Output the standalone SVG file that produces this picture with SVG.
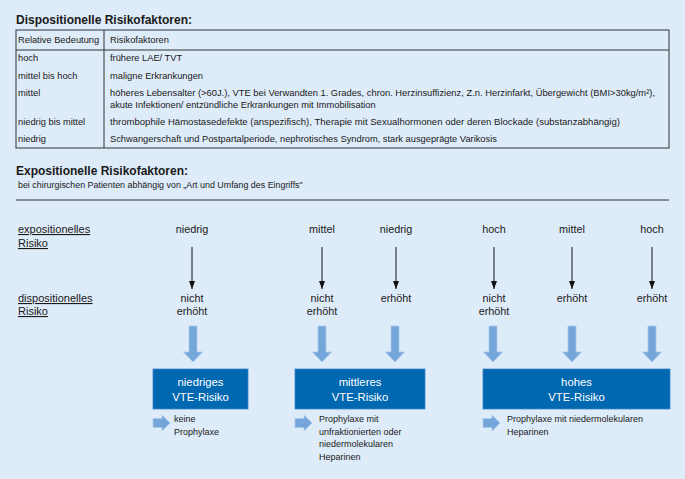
<svg xmlns="http://www.w3.org/2000/svg" width="685" height="479" viewBox="0 0 685 479">
<defs>
<marker id="ah" markerWidth="8" markerHeight="6" refX="8" refY="3" orient="auto" markerUnits="userSpaceOnUse" viewBox="0 0 8 6">
<path d="M0,0 L8,3 L0,6 Z" fill="#111"/>
</marker>
<path id="bd" d="M-4,0 L4,0 L4,26 L9.5,26 L0,36 L-9.5,26 L-4,26 Z"/>
<path id="br" d="M0,-4.5 L9,-4.5 L9,-8 L17,0 L9,8 L9,4.5 L0,4.5 Z"/>
</defs>
<style>
text{font-family:"Liberation Sans",Arial,sans-serif;fill:#1a1a1a}
.h{font-weight:bold;font-size:12px}
.t{font-size:9.3px}
.s{font-size:8.9px}
.l{font-size:11px}
.c{font-size:10.8px;text-anchor:middle}
.u{text-decoration:underline}
.bx{fill:#0067b1;stroke:#3a86c8;stroke-width:0.8}
.bt{font-size:11.3px;fill:#ffffff;text-anchor:middle}
.ba{fill:#74a6da;stroke:#a9c9ea;stroke-width:0.8}
.ar{stroke:#111;stroke-width:1;fill:none}
.p{font-size:9px}
</style>
<rect width="685" height="479" fill="#deebf8"/>
<g id="disp-table">
<text class="h" x="16" y="24">Dispositionelle Risikofaktoren:</text>
<rect x="16" y="30" width="653" height="118" fill="none" stroke="#333" stroke-width="1"/>
<line x1="16" y1="50" x2="669" y2="50" stroke="#333" stroke-width="1"/>
<line x1="104" y1="30" x2="104" y2="148" stroke="#333" stroke-width="1"/>
<text class="t" x="18" y="43">Relative Bedeutung</text>
<text class="t" x="110" y="43">Risikofaktoren</text>
<text class="t" x="18" y="61">hoch</text>
<text class="t" x="110" y="61">frühere LAE/ TVT</text>
<text class="t" x="18" y="79">mittel bis hoch</text>
<text class="t" x="110" y="79">maligne Erkrankungen</text>
<text class="t" x="18" y="96">mittel</text>
<text class="t" x="110" y="96" textLength="545" lengthAdjust="spacingAndGlyphs">höheres Lebensalter (&gt;60J.), VTE bei Verwandten 1. Grades, chron. Herzinsuffizienz, Z.n. Herzinfarkt, Übergewicht (BMI&gt;30kg/m²),</text>
<text class="t" x="110" y="108">akute Infektionen/ entzündliche Erkrankungen mit Immobilisation</text>
<text class="t" x="18" y="125">niedrig bis mittel</text>
<text class="t" x="110" y="125" textLength="510" lengthAdjust="spacingAndGlyphs">thrombophile Hämostasedefekte (anspezifisch), Therapie mit Sexualhormonen oder deren Blockade (substanzabhängig)</text>
<text class="t" x="18" y="142">niedrig</text>
<text class="t" x="110" y="142">Schwangerschaft und Postpartalperiode, nephrotisches Syndrom, stark ausgeprägte Varikosis</text>
</g>
<g id="expo-header">
<text class="h" x="16" y="175">Expositionelle Risikofaktoren:</text>
<text class="s" x="18" y="188">bei chirurgischen Patienten abhängig von „Art und Umfang des Eingriffs"</text>
<line x1="16" y1="200" x2="669" y2="200" stroke="#333" stroke-width="1"/>
</g>
<g id="row-labels">
<text class="l u" x="18" y="233">expositionelles</text>
<text class="l u" x="18" y="247">Risiko</text>
<text class="l u" x="18" y="302">dispositionelles</text>
<text class="l u" x="18" y="315">Risiko</text>
</g>
<g id="expo-values">
<text class="c" x="192" y="233">niedrig</text>
<text class="c" x="322" y="233">mittel</text>
<text class="c" x="396" y="233">niedrig</text>
<text class="c" x="494" y="233">hoch</text>
<text class="c" x="572" y="233">mittel</text>
<text class="c" x="652" y="233">hoch</text>
</g>
<g id="disp-values">
<text class="c" x="192" y="302">nicht</text>
<text class="c" x="192" y="315">erhöht</text>
<text class="c" x="322" y="302">nicht</text>
<text class="c" x="322" y="315">erhöht</text>
<text class="c" x="396" y="302">erhöht</text>
<text class="c" x="494" y="302">nicht</text>
<text class="c" x="494" y="315">erhöht</text>
<text class="c" x="572" y="302">erhöht</text>
<text class="c" x="652" y="302">erhöht</text>
</g>
<g id="connectors">
<line class="ar" x1="192" y1="247" x2="192" y2="289" marker-end="url(#ah)"/>
<line class="ar" x1="322" y1="247" x2="322" y2="289" marker-end="url(#ah)"/>
<line class="ar" x1="396" y1="247" x2="396" y2="289" marker-end="url(#ah)"/>
<line class="ar" x1="494" y1="247" x2="494" y2="289" marker-end="url(#ah)"/>
<line class="ar" x1="572" y1="247" x2="572" y2="289" marker-end="url(#ah)"/>
<line class="ar" x1="652" y1="247" x2="652" y2="289" marker-end="url(#ah)"/>
<use href="#bd" class="ba" x="193" y="326"/>
<use href="#bd" class="ba" x="322" y="326"/>
<use href="#bd" class="ba" x="395" y="326"/>
<use href="#bd" class="ba" x="493" y="326"/>
<use href="#bd" class="ba" x="572" y="326"/>
<use href="#bd" class="ba" x="652" y="326"/>
</g>
<g id="node-niedrig">
<rect class="bx" x="153" y="369" width="95" height="40"/>
<text class="bt" x="200.5" y="386">niedriges</text>
<text class="bt" x="200.5" y="401">VTE-Risiko</text>
<use href="#br" class="ba" x="153" y="423"/>
<text class="p" x="174" y="422">keine</text>
<text class="p" x="174" y="435">Prophylaxe</text>
</g>
<g id="node-mittel">
<rect class="bx" x="295" y="369" width="130" height="40"/>
<text class="bt" x="360" y="386">mittleres</text>
<text class="bt" x="360" y="401">VTE-Risiko</text>
<use href="#br" class="ba" x="295" y="423"/>
<text class="p" x="319" y="422">Prophylaxe mit</text>
<text class="p" x="319" y="434.5">unfraktionierten oder</text>
<text class="p" x="319" y="447">niedermolekularen</text>
<text class="p" x="319" y="459.5">Heparinen</text>
</g>
<g id="node-hoch">
<rect class="bx" x="483" y="369" width="187" height="40"/>
<text class="bt" x="576.5" y="386">hohes</text>
<text class="bt" x="576.5" y="401">VTE-Risiko</text>
<use href="#br" class="ba" x="483" y="423"/>
<text class="p" x="507" y="422">Prophylaxe mit niedermolekularen</text>
<text class="p" x="507" y="434.5">Heparinen</text>
</g>
</svg>
